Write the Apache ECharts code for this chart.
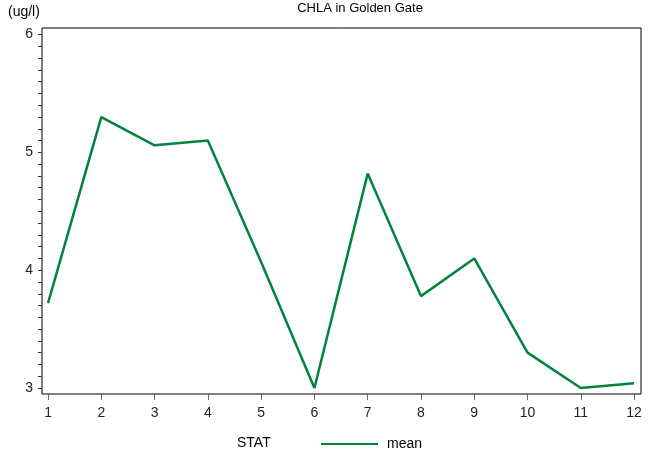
<!DOCTYPE html>
<html>
<head>
<meta charset="utf-8">
<script src="https://cdn.jsdelivr.net/npm/echarts@6/dist/echarts.min.js"></script>
<style>
  html, body { margin: 0; padding: 0; background: #fff; }
  #main { width: 650px; height: 457px; }
</style>
</head>
<body>
<div id="main"></div>
<script>
// monthly mean CHLA
var months = [1, 2, 3, 4, 5, 6, 7, 8, 9, 10, 11, 12];
var meanValues = [3.72, 5.30, 5.06, 5.10, 4.07, 3.00, 4.82, 3.78, 4.10, 3.30, 3.00, 3.04];
var yLabels = [3, 4, 5, 6];

// minor ticks every 0.1
var yTicks = [];
for (var t = 30; t <= 60; t++) yTicks.push(t / 10);

var myChart = echarts.init(document.getElementById('main'));
var font = 'Liberation Sans, Arial, sans-serif';

var option = {
    animation: false,
    title: {
        text: 'CHLA in Golden Gate',
        left: 355, top: -3,
        textAlign: 'center',
        textStyle: { fontFamily: font, fontSize: 13, fontWeight: 'normal', color: '#000' }
    },
    graphic: [
        { type: 'text', left: 8, top: 5, style: { text: '(ug/l)', font: '14px ' + font, fill: '#000' } },
        { type: 'text', left: 237, top: 436, style: { text: 'STAT', font: '14px ' + font, fill: '#000' } }
    ],
    legend: {
        left: 316, top: 432,
        itemWidth: 57, itemHeight: 14, itemGap: 14,
        icon: 'path://M0,6 L57,6 L57,8 L0,8 Z',
        textStyle: { fontFamily: font, fontSize: 14, color: '#000', padding: [0, 0, 0, 4] },
        data: ['mean']
    },
    grid: {
        left: 42, top: 28, right: 9, bottom: 63,
        show: true, borderColor: '#000', borderWidth: 1, backgroundColor: 'transparent'
    },
    xAxis: {
        type: 'value', min: 0.887, max: 12.13,
        axisLine: { show: false },
        splitLine: { show: false },
        axisTick: { show: true, length: 6, lineStyle: { color: '#666' }, customValues: months },
        axisLabel: { customValues: months, margin: 12, fontFamily: font, fontSize: 14, color: '#222' }
    },
    yAxis: {
        type: 'value', min: 2.949, max: 6.056,
        axisLine: { show: false },
        splitLine: { show: false },
        axisTick: { show: true, length: 4, lineStyle: { color: '#333' }, customValues: yTicks },
        axisLabel: { customValues: yLabels, margin: 9, fontFamily: font, fontSize: 14, color: '#222' }
    },
    series: [{
        name: 'mean',
        type: 'line',
        data: months.map(function (m, i) { return [m, meanValues[i]]; }),
        symbol: 'none',
        lineStyle: { color: '#00843d', width: 2.5 },
        itemStyle: { color: '#00843d' }
    }]
};
myChart.setOption(option);
</script>
</body>
</html>
